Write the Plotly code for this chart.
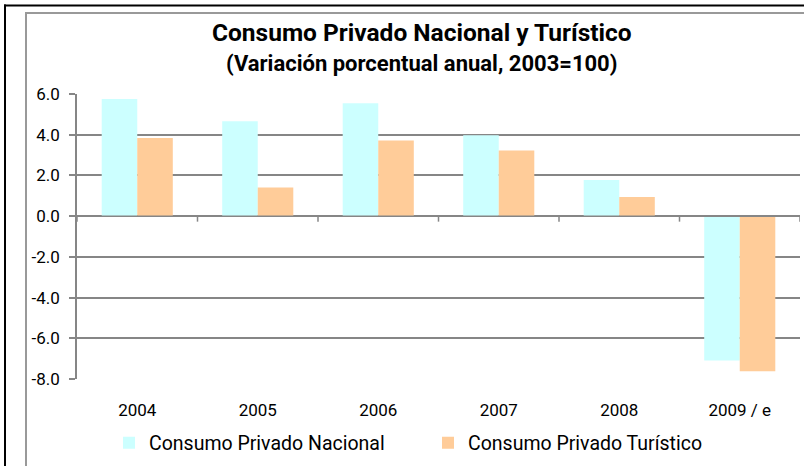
import plotly.graph_objects as go

categories = ["2004", "2005", "2006", "2007", "2008", "2009 / e"]
nacional = [5.76, 4.66, 5.54, 3.97, 1.77, -7.09]
turistico = [3.84, 1.41, 3.72, 3.23, 0.94, -7.62]
series_names = ["Consumo Privado Nacional", "Consumo Privado Turístico"]
y_ticks = [-8, -6, -4, -2, 0, 2, 4, 6]
y_tick_labels = ["-8.0", "-6.0", "-4.0", "-2.0", "0.0", "2.0", "4.0", "6.0"]

FONT = "Roboto, Arial, sans-serif"
W, H = 804, 466
L, R, T, B = 77, 4, 94, 87
pw, ph = W - L - R, H - T - B

def px_x(x):
    return (x - L) / pw

def px_y(y):
    return (H - B - y) / ph

fig = go.Figure()
fig.add_trace(go.Bar(x=categories, y=nacional, name=series_names[0],
                     marker=dict(color="#CCFFFF", line=dict(width=0))))
fig.add_trace(go.Bar(x=categories, y=turistico, name=series_names[1],
                     marker=dict(color="#FFCC99", line=dict(width=0))))

shapes = []
# outer frame lines
shapes.append(dict(type="line", xref="paper", yref="paper", x0=px_x(4), x1=px_x(806),
                   y0=px_y(5.5), y1=px_y(5.5), line=dict(color="black", width=2)))
shapes.append(dict(type="line", xref="paper", yref="paper", x0=px_x(5), x1=px_x(5),
                   y0=px_y(4.5), y1=px_y(470), line=dict(color="black", width=2)))
shapes.append(dict(type="line", xref="paper", yref="paper", x0=px_x(25), x1=px_x(806),
                   y0=px_y(13), y1=px_y(13), line=dict(color="#999999", width=2)))
shapes.append(dict(type="line", xref="paper", yref="paper", x0=px_x(26), x1=px_x(26),
                   y0=px_y(12), y1=px_y(470), line=dict(color="#999999", width=2)))
# zero axis line with boundary ticks
shapes.append(dict(type="line", xref="x", yref="y", x0=-0.5, x1=len(categories) - 0.5,
                   y0=0, y1=0, line=dict(color="#868686", width=1.5)))
for i in range(len(categories) + 1):
    shapes.append(dict(type="line", xref="x", yref="y", x0=i - 0.5, x1=i - 0.5,
                       y0=0, y1=-0.27, line=dict(color="#868686", width=1.5)))

fig.update_layout(
    width=W, height=H,
    margin=dict(l=L, r=R, t=T, b=B, pad=0),
    paper_bgcolor="white", plot_bgcolor="white",
    barmode="group", bargap=0.41, bargroupgap=0,
    font=dict(family=FONT, color="black", size=17),
    showlegend=True,
    legend=dict(orientation="h", x=px_x(109), xanchor="left", y=px_y(443), yanchor="middle",
                font=dict(family=FONT, size=19.5), entrywidth=274, tracegroupgap=0,
                bgcolor="rgba(0,0,0,0)"),
    shapes=shapes,
    annotations=[
        dict(text="<b>Consumo Privado Nacional y Turístico</b>", xref="paper", yref="paper",
             x=px_x(422), y=px_y(32), xanchor="center", yanchor="middle", showarrow=False,
             font=dict(family=FONT, size=24.5, color="black")),
        dict(text="<b>(Variación porcentual anual, 2003=100)</b>", xref="paper", yref="paper",
             x=px_x(421), y=px_y(64), xanchor="center", yanchor="middle", showarrow=False,
             font=dict(family=FONT, size=22, color="black")),
    ],
)
fig.update_xaxes(type="category", showgrid=False, showline=False, ticks="",
                 ticklabelstandoff=19, tickfont=dict(family=FONT, size=17),
                 range=[-0.5, len(categories) - 0.5], fixedrange=True)
fig.update_yaxes(range=[-8, 6], tickvals=y_ticks, ticktext=y_tick_labels,
                 showgrid=True, gridcolor="#868686", gridwidth=1.5, zeroline=False,
                 showline=True, linecolor="#868686", linewidth=1.5,
                 ticks="outside", ticklen=6, tickcolor="#868686", tickwidth=1.5,
                 ticklabelstandoff=6, tickfont=dict(family=FONT, size=17), fixedrange=True)

fig.write_html("out.html", config={"displayModeBar": False},
               post_script="document.body.style.margin='0';document.body.style.padding='0';")
